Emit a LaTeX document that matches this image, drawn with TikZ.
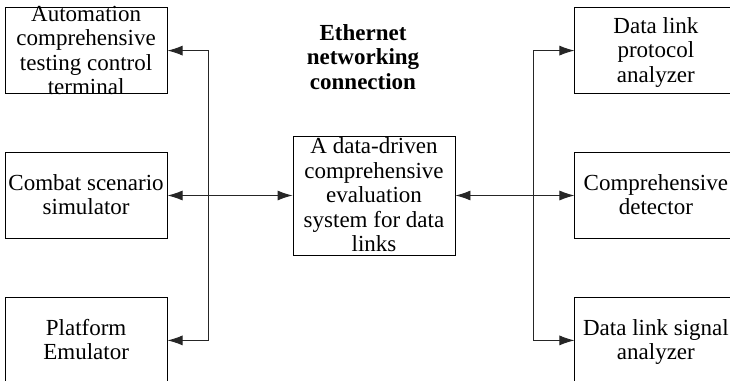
\documentclass[tikz,border=0pt]{standalone}
\usepackage{fontspec}
\setmainfont{Liberation Serif}
\usepackage{tikz}
\usetikzlibrary{arrows.meta, positioning}
\newcommand{\boxlines}[1]{\smash{\raisebox{-8.5pt}{\begin{tabular}{@{}c@{}}#1\end{tabular}}}}

\begin{document}
\begin{tikzpicture}[
  x=1pt, y=-1pt,
  font=\fontsize{23}{24.5}\selectfont,
  unit/.style={draw, rectangle, line width=0.9pt,
               minimum width=162pt, minimum height=86pt,
               inner sep=0pt, text centered},
  core/.style={draw, rectangle, line width=0.9pt,
               minimum width=162pt, minimum height=119pt,
               inner sep=0pt, text centered},
  arr/.style={{Latex[length=15pt,width=10pt]}-{Latex[length=15pt,width=10pt]},
              black!85, line width=0.9pt},
  node distance=58pt,
]
\clip (0,0) rectangle (730,380);
\node[core] (eval) at (374,195.5) {\boxlines{A data-driven\\comprehensive\\evaluation\\system for data\\links}};
\node[unit, left=125pt of eval]  (sim)    {\boxlines{Combat scenario\\simulator}};
\node[unit, above=of sim]        (term)   {\boxlines{Automation\\comprehensive\\testing control\\terminal}};
\node[unit, below=of sim]        (emul)   {\boxlines{Platform\\Emulator}};
\node[unit, right=119pt of eval] (detect) {\boxlines{Comprehensive\\detector}};
\node[unit, above=of detect]     (proto)  {\boxlines{Data link\\protocol\\analyzer}};
\node[unit, below=of detect]     (signal) {\boxlines{Data link signal\\analyzer}};
\node[font=\fontsize{23}{24.5}\selectfont\bfseries, align=center] (eth) at (363,57) {Ethernet\\networking\\connection};

\draw[arr] (term.east) -- ++(41,0) |- (emul.east);
\draw[arr] (sim) -- (eval);
\draw[arr] (proto.west) -- ++(-41,0) |- (signal.west);
\draw[arr] (eval) -- (detect);
\end{tikzpicture}
\end{document}
